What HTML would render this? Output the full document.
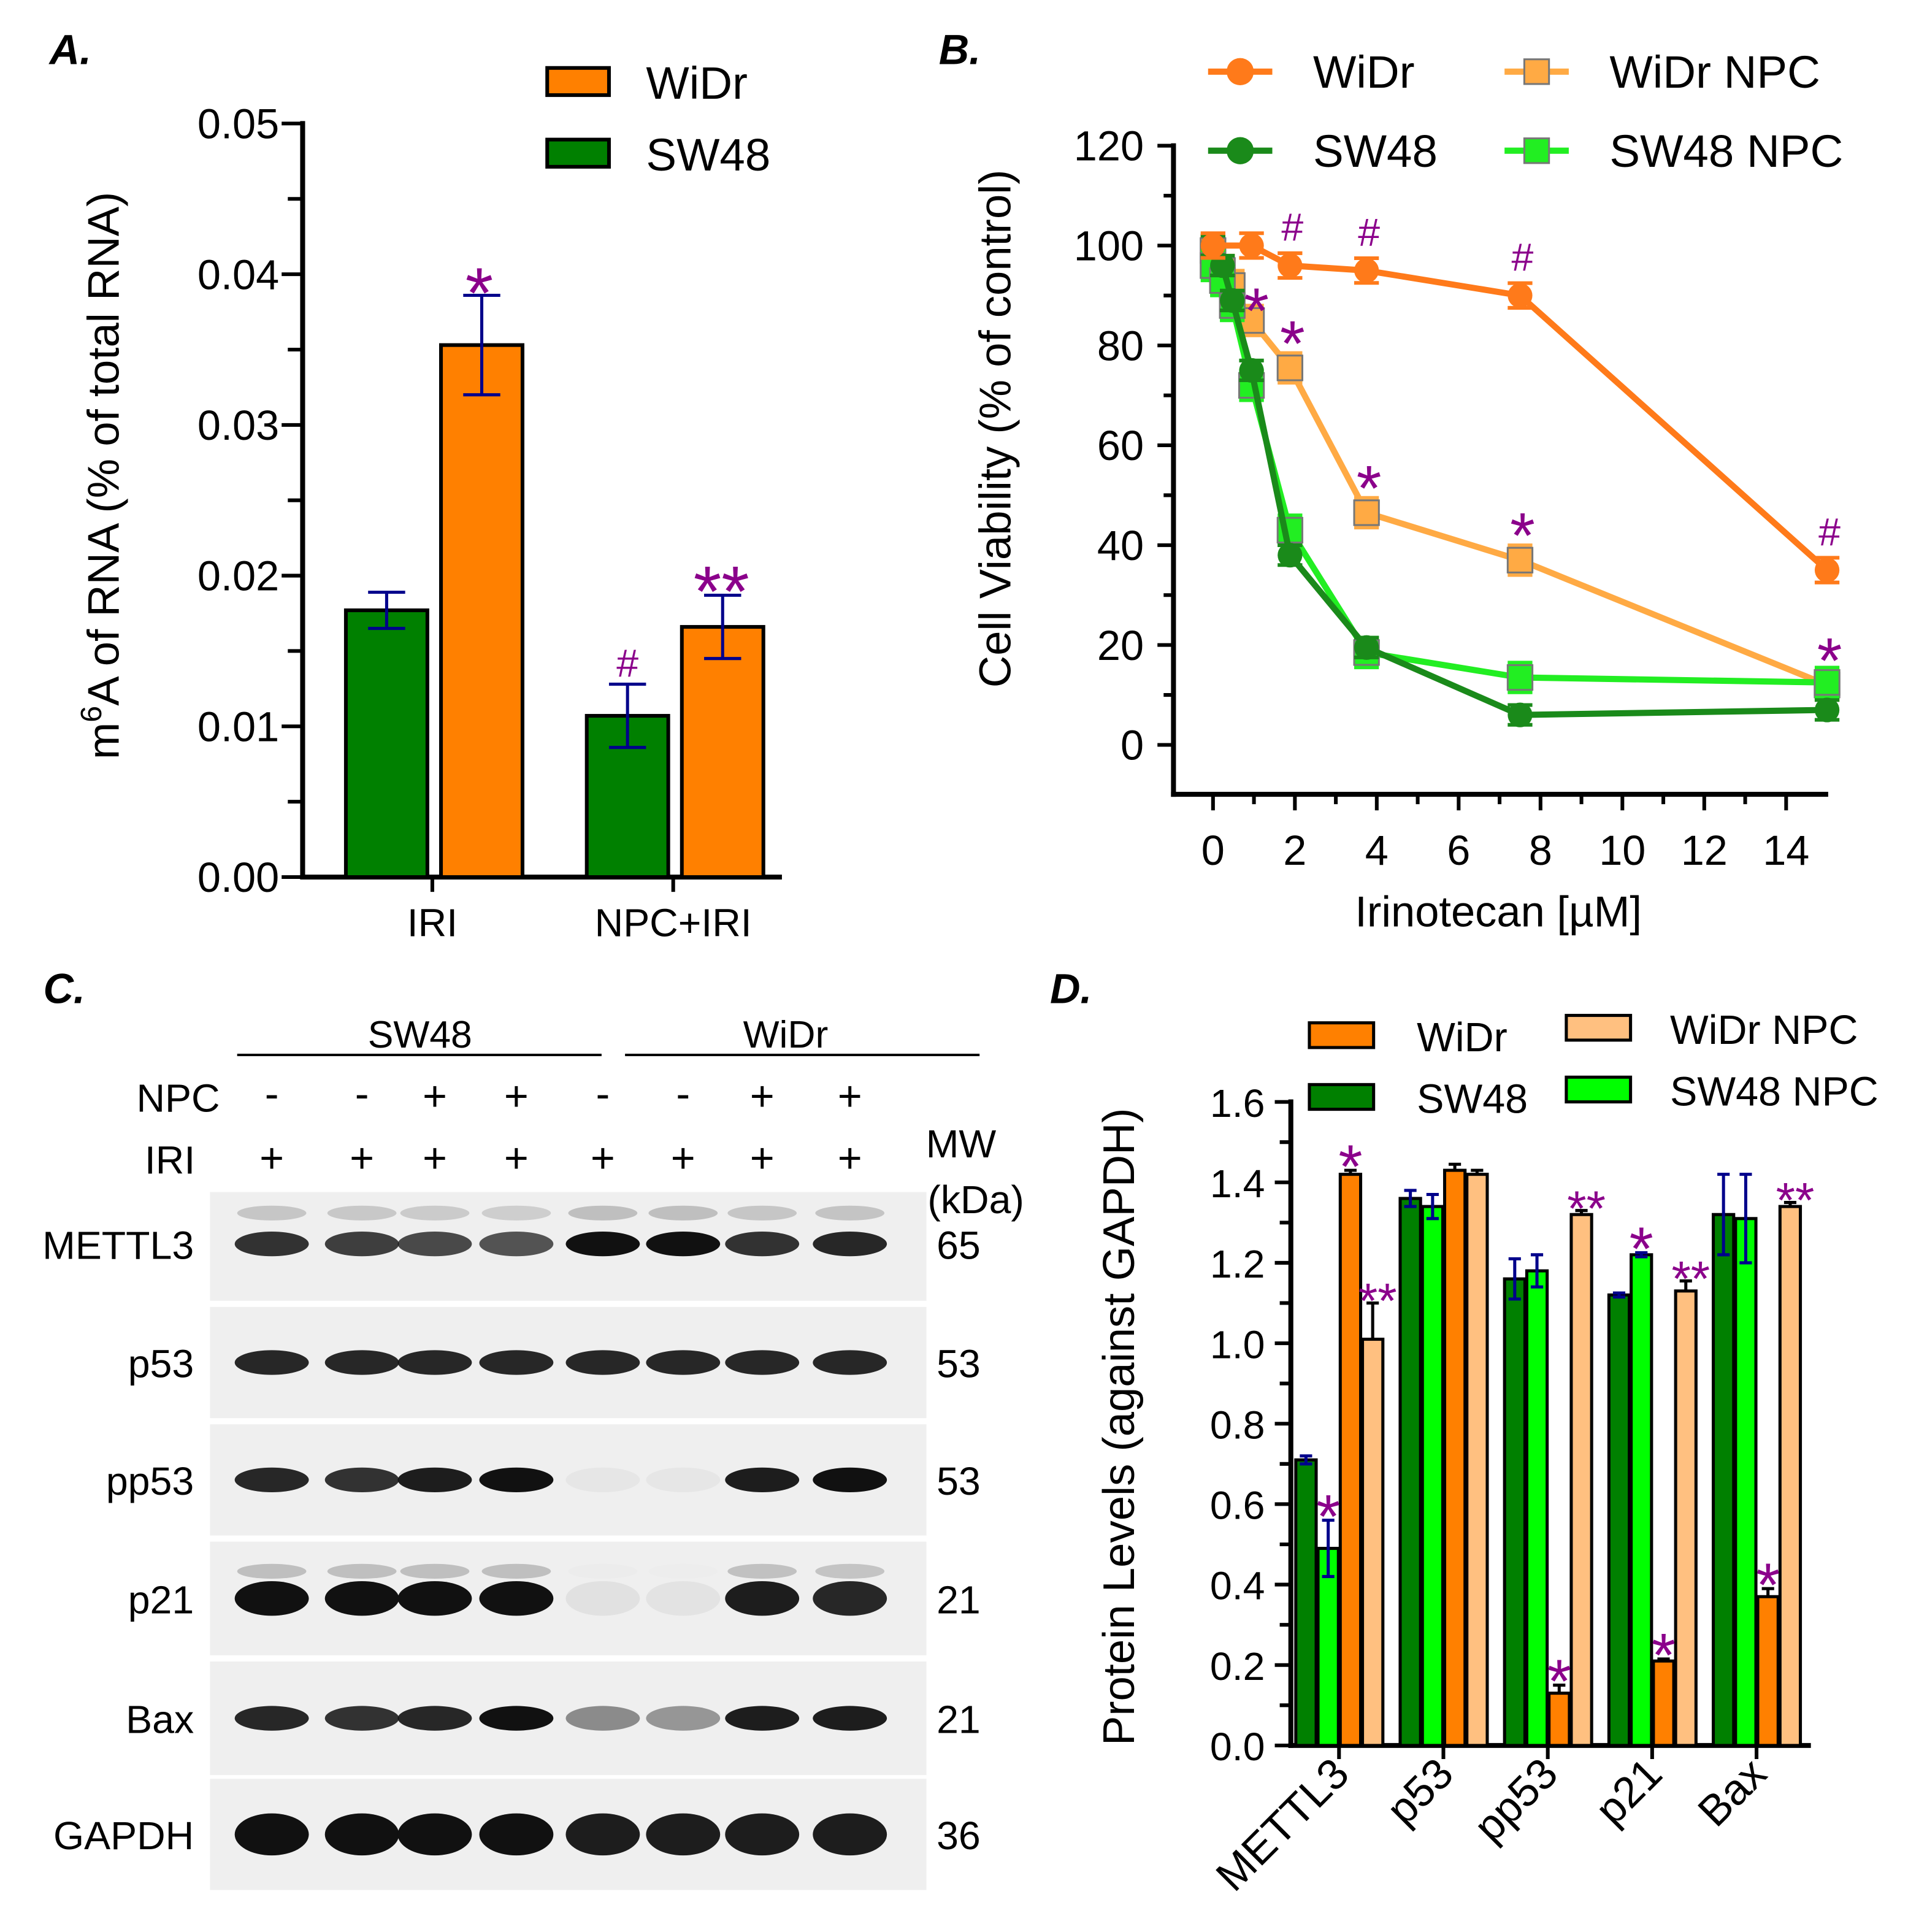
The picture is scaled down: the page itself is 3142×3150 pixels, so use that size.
<!DOCTYPE html>
<html><head><meta charset="utf-8"><style>
html,body{margin:0;padding:0;background:#fff}
svg{display:block}
text{font-family:"Liberation Sans",Arial,sans-serif}
</style></head><body>
<svg id="fig" width="3142" height="3150" viewBox="0 0 1560 1564" preserveAspectRatio="none" xmlns="http://www.w3.org/2000/svg"></svg>
<script>
// ---- Panel A data ----
const aCategories = ["IRI", "NPC+IRI"];
const aSW48 = [0.0177, 0.0107];
const aSW48Err = [0.0012, 0.0021];
const aWiDr = [0.0353, 0.0166];
const aWiDrErr = [0.0033, 0.0021];
const aTicks = ["0.00","0.01","0.02","0.03","0.04","0.05"];
// ---- Panel B data ----
const bDoseWiDr = [0, 0.94, 1.88, 3.75, 7.5, 15];
const bWiDr = [100, 100, 96, 95, 90, 35];
const bDoseSW48 = [0, 0.23, 0.47, 0.94, 1.88, 3.75, 7.5, 15];
const bSW48 = [100, 96, 89, 75, 38, 19.5, 6, 7];
const bDoseWiDrNPC = [0, 0.23, 0.47, 0.94, 1.88, 3.75, 7.5, 15];
const bWiDrNPC = [99, 95, 92, 85, 75.5, 46.5, 37, 12];
const bDoseSW48NPC = [0, 0.23, 0.47, 0.94, 1.88, 3.75, 7.5, 15];
const bSW48NPC = [96, 93, 88, 72, 43, 18.5, 13.5, 12.5];
const bYTicks = [0,20,40,60,80,100,120];
const bXTicks = [0,2,4,6,8,10,12,14];
// ---- Panel D data ----
const dCategories = ["METTL3","p53","pp53","p21","Bax"];
const dSW48 = [0.71, 1.36, 1.16, 1.12, 1.32];
const dSW48Err = [0.01, 0.02, 0.05, 0.005, 0.10];
const dSW48NPC = [0.49, 1.34, 1.18, 1.22, 1.31];
const dSW48NPCErr = [0.07, 0.03, 0.04, 0.005, 0.11];
const dWiDr = [1.42, 1.43, 0.13, 0.21, 0.37];
const dWiDrErr = [0.01, 0.015, 0.02, 0.005, 0.02];
const dWiDrNPC = [1.01, 1.42, 1.32, 1.13, 1.34];
const dWiDrNPCErr = [0.09, 0.01, 0.01, 0.025, 0.01];
const dYTicks = ["0.0","0.2","0.4","0.6","0.8","1.0","1.2","1.4","1.6"];
// ---- Panel C data ----
const cRows = ["METTL3","p53","pp53","p21","Bax","GAPDH"];
const cMW = ["65","53","53","21","21","36"];
const cNPC = ["-","-","+","+","-","-","+","+"];
const cIntensity = [
 [0.85,0.8,0.75,0.7,1,1,0.85,0.9],
 [0.9,0.9,0.9,0.9,0.9,0.9,0.9,0.9],
 [0.9,0.85,0.95,1,0.04,0.04,0.95,1],
 [1,1,1,1,0.06,0.05,0.95,0.9],
 [0.9,0.85,0.9,1,0.45,0.4,0.95,0.95],
 [1,1,1,1,0.95,0.95,0.95,0.95]];

const S = document.getElementById('fig');
const NS = "http://www.w3.org/2000/svg";
function mk(tag, at, parent){const e=document.createElementNS(NS,tag);for(const k in at)e.setAttribute(k,at[k]);(parent||S).appendChild(e);return e;}
function tx(x,y,s,size,anchor,fill,parent){const e=mk('text',{x:x,y:y,'font-size':size,'text-anchor':anchor||'start',fill:fill||'#000'},parent);e.textContent=s;return e;}
const PUR="#8b008b", NAVY="#00008b", OR="#ff8000", LOR="#ffc080", DG="#008000", LG="#00ff00", OR2="#ff7a1a", OR3="#ffaa44";

// ================= Panel A =================
let e;
e=tx(40,52,"A.",34,'start'); e.setAttribute('font-weight','bold'); e.setAttribute('font-style','italic');
 
const aY = v => 710 - v/0.01*122;
const aAx = mk('g',{});
 
mk('line',{x1:245,y1:98,x2:245,y2:712,stroke:'#000','stroke-width':4},aAx);
for(let i=0;i<=10;i++){const v=i*0.005,y=aY(v);mk('line',{x1:i%2?233:228,y1:y,x2:245,y2:y,stroke:'#000','stroke-width':3},aAx);}
aTicks.forEach((t,i)=>{e=tx(226,aY(i*0.01)+12,t,34,'end',null,aAx);});
const aXA = mk('line',{x1:243,y1:710,x2:633,y2:710,stroke:'#000','stroke-width':4});
 
const aCx=[350,545];
aCategories.forEach((c,i)=>{
 mk('line',{x1:aCx[i],y1:710,x2:aCx[i],y2:722,stroke:'#000','stroke-width':3});
 e=tx(aCx[i],758,c,32,'middle');
 [[aSW48,aSW48Err,DG,-70],[aWiDr,aWiDrErr,OR,7]].forEach(([vals,errs,col,off],k)=>{
  const x=aCx[i]+off,w=66,y=aY(vals[i]);
  const b=mk('rect',{x:x,y:y,width:w,height:710-y,fill:col,stroke:'#000','stroke-width':3});
   
  const cx=x+w/2,y1=aY(vals[i]+errs[i]),y2=aY(vals[i]-errs[i]);
  const eb=mk('path',{d:`M${cx},${y1}V${y2}M${cx-15},${y1}H${cx+15}M${cx-15},${y2}H${cx+15}`,stroke:NAVY,'stroke-width':2.5,fill:'none'});
   
 });
});
e=tx(388,aY(aWiDr[0]+aWiDrErr[0])+18,"*",58,'middle',PUR);
e=tx(508,aY(aSW48[1]+aSW48Err[1])-6,"#",32,'middle',PUR);
e=tx(584,aY(aWiDr[1]+aWiDrErr[1])+17,"**",58,'middle',PUR);
e=tx(0,0,"",36,'middle');e.setAttribute('transform','translate(96,385) rotate(-90)');
e.innerHTML='m<tspan dy="-14" font-size="24">6</tspan><tspan dy="14">A of RNA (% of total RNA)</tspan>';

[[OR,"WiDr",55],[DG,"SW48",113]].forEach(([c,t,y])=>{
 const g=mk('g',{});
 mk('rect',{x:443,y:y,width:50,height:22,fill:c,stroke:'#000','stroke-width':3},g);
 tx(523,y+25,t,37,'start',null,g);
});

// ================= Panel B =================
e=tx(760,52,"B.",34,'start');e.setAttribute('font-weight','bold');e.setAttribute('font-style','italic');

const bY=v=>603-v*4.042, bX=v=>982+v*33.14;
const bAx=mk('g',{});
mk('line',{x1:950,y1:116,x2:950,y2:645,stroke:'#000','stroke-width':4},bAx);
mk('line',{x1:948,y1:643,x2:1480,y2:643,stroke:'#000','stroke-width':4},bAx);
bYTicks.forEach(v=>{mk('line',{x1:937,y1:bY(v),x2:950,y2:bY(v),stroke:'#000','stroke-width':3},bAx);
 e=tx(926,bY(v)+12,String(v),34,'end',null,bAx);});
for(let v=10;v<120;v+=20)mk('line',{x1:942,y1:bY(v),x2:950,y2:bY(v),stroke:'#000','stroke-width':3},bAx);
bXTicks.forEach(v=>{mk('line',{x1:bX(v),y1:643,x2:bX(v),y2:656,stroke:'#000','stroke-width':3},bAx);
 e=tx(bX(v),700,String(v),34,'middle',null,bAx);});
for(let v=1;v<15;v+=2)mk('line',{x1:bX(v),y1:643,x2:bX(v),y2:651,stroke:'#000','stroke-width':3},bAx);
e=tx(0,0,"Cell Viability (% of control)",36,'middle');e.setAttribute('transform','translate(818,347) rotate(-90)');

e=tx(1213,750,"Irinotecan [µM]",35,'middle');
function series(xs,ys,col,sq,name,err){
 const g=mk('g',{});
 mk('polyline',{points:xs.map((x,i)=>bX(x)+','+bY(ys[i])).join(' '),fill:'none',stroke:col,'stroke-width':5},g);
 xs.forEach((x,i)=>{const cx=bX(x),cy=bY(ys[i]);
  mk('path',{d:`M${cx},${cy-err*4}V${cy+err*4}M${cx-10},${cy-err*4}H${cx+10}M${cx-10},${cy+err*4}H${cx+10}`,stroke:col,'stroke-width':3,fill:'none'},g);
  if(sq)mk('rect',{x:cx-10,y:cy-10,width:20,height:20,fill:col,stroke:'#777','stroke-width':1.5},g);
  else mk('circle',{cx:cx,cy:cy,r:10,fill:col},g);
 });
}
series(bDoseWiDrNPC,bWiDrNPC,OR3,true,'series-widr-npc',3);
series(bDoseSW48NPC,bSW48NPC,"#22ee22",true,'series-sw48-npc',3);
series(bDoseSW48,bSW48,"#1a8a1a",false,'series-sw48',2);
series(bDoseWiDr,bWiDr,OR2,false,'series-widr',2.5);
[2,3,4,5].forEach(i=>{e=tx(bX(bDoseWiDr[i])+2,bY(bWiDr[i])-20,"#",32,'middle',PUR);});
[3,4,5,6,7].forEach(i=>{e=tx(bX(bDoseWiDrNPC[i])+(i==3?4:2),bY(bWiDrNPC[i])+(i==3?10:-2),"*",52,'middle',PUR);});
[[1004,58,OR2,false,"WiDr",1063],[1004,122,"#1a8a1a",false,"SW48",1063],[1244,58,OR3,true,"WiDr NPC",1303],[1244,122,"#22ee22",true,"SW48 NPC",1303]].forEach(([cx,cy,c,sq,t,tx0])=>{
 const g=mk('g',{});
 mk('line',{x1:cx-26,y1:cy,x2:cx+26,y2:cy,stroke:c,'stroke-width':5},g);
 if(sq)mk('rect',{x:cx-10,y:cy-10,width:20,height:20,fill:c,stroke:'#777','stroke-width':1.5},g);
 else mk('circle',{cx:cx,cy:cy,r:11,fill:c},g);
 tx(tx0,cy+13,t,37,'start',null,g);
});

// ================= Panel C =================
e=tx(35,812,"C.",34,'start');e.setAttribute('font-weight','bold');e.setAttribute('font-style','italic');

const laneX=[220,293,352,418,488,553,617,688];
e=tx(340,848,"SW48",31,'middle');
e=tx(636,848,"WiDr",31,'middle');
mk('line',{x1:192,y1:854,x2:487,y2:854,stroke:'#000','stroke-width':2});
mk('line',{x1:506,y1:854,x2:793,y2:854,stroke:'#000','stroke-width':2});
e=tx(178,900,"NPC",32,'end');
e=tx(158,950,"IRI",32,'end');
e=tx(778,937,"MW",32,'middle');
e=tx(790,982,"(kDa)",32,'middle');
laneX.forEach((x,i)=>{
 e=tx(x,cNPC[i]=="+"?899:897,cNPC[i],34,'middle');
 e=tx(x,949,"+",34,'middle');
});
const rowTop=[965,1058,1153,1248,1345,1440], rowH=[88,90,90,92,92,90];
cRows.forEach((r,ri)=>{
 const g=mk('g',{});
 mk('rect',{x:170,y:rowTop[ri],width:580,height:rowH[ri],fill:'#efefef'},g);
 const cy=rowTop[ri]+rowH[ri]/2+(ri==0?-2:0);
 cIntensity[ri].forEach((v,li)=>{
  mk('ellipse',{cx:laneX[li],cy:cy,rx:30,ry:ri==5?17:(ri==3?14:10),fill:'#111','fill-opacity':v},g);
  if(ri==0||ri==3) mk('ellipse',{cx:laneX[li],cy:cy-(ri==0?25:22),rx:28,ry:6,fill:'#666','fill-opacity':v*0.35},g);
 });
 e=tx(157,cy+12,r,32,'end');
 e=tx(776,cy+12,cMW[ri],32,'middle');
});

// ================= Panel D =================
e=tx(850,812,"D.",34,'start');e.setAttribute('font-weight','bold');e.setAttribute('font-style','italic');

const dY=v=>1413-v*325.6;
const dAx=mk('g',{});
mk('line',{x1:1045,y1:890,x2:1045,y2:1415,stroke:'#000','stroke-width':4},dAx);
mk('line',{x1:1043,y1:1413,x2:1466,y2:1413,stroke:'#000','stroke-width':4},dAx);
dYTicks.forEach((t,i)=>{const y=dY(i*0.2);mk('line',{x1:1032,y1:y,x2:1045,y2:y,stroke:'#000','stroke-width':3},dAx);
 if(i<8) mk('line',{x1:1036,y1:dY(i*0.2+0.1),x2:1045,y2:dY(i*0.2+0.1),stroke:'#000','stroke-width':3},dAx);
 e=tx(1024,y+12,t,32,'end',null,dAx);});
e=tx(0,0,"Protein Levels (against GAPDH)",36,'middle');e.setAttribute('transform','translate(918,1155) rotate(-90)');

const series4=[[dSW48,dSW48Err,DG,NAVY],[dSW48NPC,dSW48NPCErr,LG,NAVY],[dWiDr,dWiDrErr,OR,'#000'],[dWiDrNPC,dWiDrNPCErr,LOR,'#000']];
const sNames=['sw48','sw48-npc','widr','widr-npc'];
const bw=16.5;
dCategories.forEach((c,ci)=>{
 const gx=1049+ci*84.5;
 series4.forEach(([vals,errs,col,ec],si)=>{
  const x=gx+si*(bw+1.5),y=dY(vals[ci]);
  const b=mk('rect',{x:x,y:y,width:bw,height:1413-y,fill:col,stroke:'#000','stroke-width':2.5});
  
  const cx=x+bw/2,y1=dY(vals[ci]+errs[ci]),y2=dY(vals[ci]-errs[ci]);
  const eb=mk('path',{d:`M${cx},${y1}V${ec==NAVY?y2:y}M${cx-5},${y1}H${cx+5}`+(ec==NAVY?`M${cx-5},${y2}H${cx+5}`:''),stroke:ec,'stroke-width':2.5,fill:'none'});
  
 });
 const tcx=gx+2*bw+2;
 mk('line',{x1:tcx,y1:1413,x2:tcx,y2:1424,stroke:'#000','stroke-width':3},dAx);
 e=tx(0,0,c,35,'end');e.setAttribute('transform',`translate(${tcx+10},${1438}) rotate(-45)`);
 
});
const dStars=[[0,1,"*"],[0,2,"*"],[0,3,"**"],[2,2,"*"],[2,3,"**"],[3,1,"*"],[3,2,"*"],[3,3,"**"],[4,2,"*"],[4,3,"**"]];
dStars.forEach(([ci,si,s])=>{
 const arr=series4[si];const x=1049+ci*84.5+si*(bw+1.5)+bw/2;
 e=tx(x+(s=="**"?4:0),dY(arr[0][ci]+arr[1][ci])+(s=="*"?14:12),s,s=="*"?50:40,'middle',PUR);
 
});
[[1060,828,OR,"WiDr",1147],[1060,878,DG,"SW48",1147],[1268,822,LOR,"WiDr NPC",1352],[1268,872,LG,"SW48 NPC",1352]].forEach(([x,y,c,t,tx0])=>{
 const g=mk('g',{});
 mk('rect',{x:x,y:y,width:52,height:20,fill:c,stroke:'#000','stroke-width':2.5},g);
 tx(tx0,y+23,t,33,'start',null,g);
});
</script>
</body></html>
